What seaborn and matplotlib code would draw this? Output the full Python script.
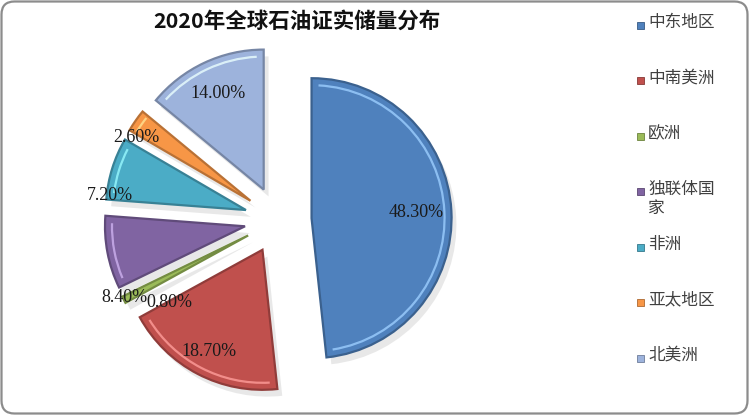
import numpy as np
import matplotlib.pyplot as plt
import matplotlib.colors as mcolors
import seaborn as sns
from matplotlib.patches import FancyBboxPatch, Arc, Rectangle

# data
regions = ['中东地区', '中南美洲', '欧洲', '独联体国家', '非洲', '亚太地区', '北美洲']
share = [48.3, 18.7, 0.8, 8.4, 7.2, 2.6, 14.0]
legend_labels = ['中东地区', '中南美洲', '欧洲', '独联体国\n家', '非洲', '亚太地区', '北美洲']
colors = ['#4F81BD', '#C0504D', '#9BBB59', '#8064A2', '#4BACC6', '#F79646', '#9DB3DC']
title = '2020年全球石油证实储量分布'

# where each percentage label sits (fraction of radius, extra turn in degrees)
label_dist = [0.75, 0.82, 0.74, 1.0, 0.98, 0.93, 0.76]
label_turn = [0, 0, 13, 20, 11, 6, 0]

sns.set_theme(style='white')
plt.rcParams['font.family'] = ['Noto Sans CJK SC', 'DejaVu Sans']

palette = sns.color_palette(colors)

fig = plt.figure(figsize=(7.5, 4.16), dpi=100)

# background axes in pixel units: frame, title, legend
bg = fig.add_axes([0, 0, 1, 1])
bg.set_xlim(0, 750)
bg.set_ylim(416, 0)
bg.axis('off')
bg.add_patch(FancyBboxPatch((1.5, 1.5), 746, 412, boxstyle='round,pad=0,rounding_size=13',
                            facecolor='white', edgecolor='#8c8c8c', linewidth=1.6))
bg.text(297, 21, title, ha='center', va='center', fontsize=15.5, fontweight='bold', color='#111111')

legend_top, legend_step = 25, 55.5
for i, lab in enumerate(legend_labels):
    y = legend_top + i * legend_step
    bg.add_patch(Rectangle((636.5, y - 3.5), 7, 7, facecolor=palette[i],
                           edgecolor=np.array(palette[i]) * 0.7, linewidth=0.6))
    # first line centred on the marker, a wrapped second line hangs below
    bg.text(648, y - 11, lab, ha='left', va='top', fontsize=12, color='#404040', linespacing=1.2)

# pie
ax = fig.add_axes([82 / 750, 0, 392 / 750, 392 / 416])
wedges, texts, autotexts = ax.pie(
    share, colors=palette, startangle=90, counterclock=False,
    explode=[0.24] * len(share), autopct='%.2f%%', pctdistance=0.7,
    wedgeprops=dict(linewidth=1.6),
    shadow={'ox': 0.025, 'oy': -0.035, 'facecolor': '#d6d6d6', 'edgecolor': 'none', 'alpha': 0.55},
    textprops=dict(fontsize=13, color='#1a1a1a', family='Liberation Serif'))
ax.set_xlim(-1.4, 1.4)
ax.set_ylim(-1.4, 1.4)
ax.set_aspect('equal')
ax.axis('off')

for i, w in enumerate(wedges):
    base = np.array(mcolors.to_rgb(palette[i]))
    w.set_edgecolor(base * 0.75)
    cx, cy = w.center
    span = w.theta2 - w.theta1
    if span > 6:
        # light highlight just inside the outer rim
        inset = min(3, span * 0.12)
        ax.add_patch(Arc((cx, cy), 2 * w.r * 0.95, 2 * w.r * 0.95,
                         theta1=w.theta1 + inset, theta2=w.theta2 - inset,
                         color=np.minimum(base + 0.3, 1), linewidth=1.6, alpha=0.8))
    mid = np.deg2rad((w.theta1 + w.theta2) / 2 + label_turn[i])
    autotexts[i].set_position((cx + label_dist[i] * np.cos(mid), cy + label_dist[i] * np.sin(mid)))
    autotexts[i].set_ha('center')
    autotexts[i].set_va('center')

fig.savefig('out.png', dpi=100)
